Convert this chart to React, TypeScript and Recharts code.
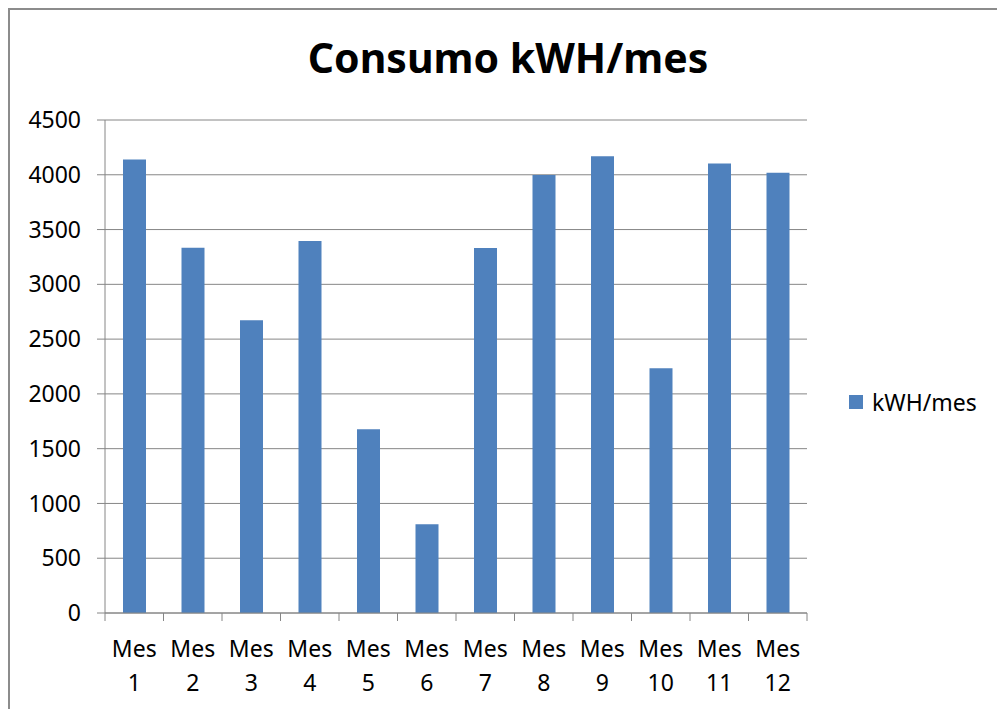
import React from "react"
import { BarChart, Bar, XAxis, YAxis, CartesianGrid, Legend } from "recharts"

const months = ["Mes 1", "Mes 2", "Mes 3", "Mes 4", "Mes 5", "Mes 6", "Mes 7", "Mes 8", "Mes 9", "Mes 10", "Mes 11", "Mes 12"]
const consumo = [4140, 3335, 2673, 3395, 1678, 810, 3331, 3998, 4168, 2235, 4102, 4018]
const yTicks = [0, 500, 1000, 1500, 2000, 2500, 3000, 3500, 4000, 4500]

const FONT = "'Noto Sans', sans-serif"
const BLUE = "#4F81BD"
const GRID = "#868686"
const W = 997
const H = 709
const PLOT_LEFT = 105
const PLOT_RIGHT = 807
const BAND = (PLOT_RIGHT - PLOT_LEFT) / months.length

const data = months.map((m, i) => ({ mes: m, kwh: consumo[i] }))

function MesTick(props: any) {
  const { x, y, payload, index } = props
  const [word, num] = String(payload.value).split(" ")
  const left = x - BAND / 2
  return (
    <g>
      <line x1={left} x2={left} y1={y} y2={y + 8} stroke={GRID} />
      {index === months.length - 1 && (
        <line x1={x + BAND / 2} x2={x + BAND / 2} y1={y} y2={y + 8} stroke={GRID} />
      )}
      <text x={x} y={y + 44} textAnchor="middle" fontSize={23} fontFamily={FONT} fill="#000">
        {word}
      </text>
      <text x={x} y={y + 78} textAnchor="middle" fontSize={23} fontFamily={FONT} fill="#000">
        {num}
      </text>
    </g>
  )
}

function LegendBox() {
  return (
    <div style={{ display: "flex", alignItems: "center", fontFamily: FONT, fontSize: 23, color: "#000" }}>
      <span style={{ width: 14, height: 14, background: BLUE, display: "inline-block", marginRight: 9 }} />
      <span>kWH/mes</span>
    </div>
  )
}

export default function App() {
  return (
    <div style={{ position: "absolute", left: 0, top: 0, width: W, height: H, overflow: "hidden", background: "#fff" }}>
      <div
        style={{
          position: "absolute",
          left: 8,
          top: 8,
          width: 1100,
          height: 800,
          borderLeft: "2px solid #8c8c8c",
          borderTop: "2px solid #8c8c8c",
          boxSizing: "border-box",
        }}
      />
      <div
        style={{
          position: "absolute",
          left: 508,
          top: 37,
          transform: "translateX(-50%)",
          whiteSpace: "nowrap",
          fontFamily: FONT,
          fontWeight: 700,
          fontSize: 41,
          lineHeight: "41px",
          color: "#000",
        }}
      >
        Consumo kWH/mes
      </div>
      <div style={{ position: "absolute", left: 0, top: 0 }}>
        <BarChart width={W} height={H} data={data} margin={{ top: 120, right: W - PLOT_RIGHT, bottom: 16, left: 45 }} barSize={23}>
          <CartesianGrid vertical={false} stroke={GRID} />
          <XAxis
            dataKey="mes"
            height={80}
            axisLine={{ stroke: GRID }}
            tickLine={false}
            tickSize={0}
            tickMargin={0}
            interval={0}
            tick={<MesTick />}
          />
          <YAxis
            width={60}
            domain={[0, 4500]}
            ticks={yTicks}
            interval={0}
            axisLine={{ stroke: GRID }}
            tickLine={{ stroke: GRID }}
            tickSize={8}
            tickMargin={16}
            tick={{ fontSize: 23, fontFamily: FONT, fill: "#000" }}
          />
          <Legend
            layout="horizontal"
            align="center"
            verticalAlign="middle"
            wrapperStyle={{ left: 849, top: 386, width: 140 }}
            content={() => <LegendBox />}
          />
          <Bar dataKey="kwh" name="kWH/mes" fill={BLUE} isAnimationActive={false} />
        </BarChart>
      </div>
    </div>
  )
}
